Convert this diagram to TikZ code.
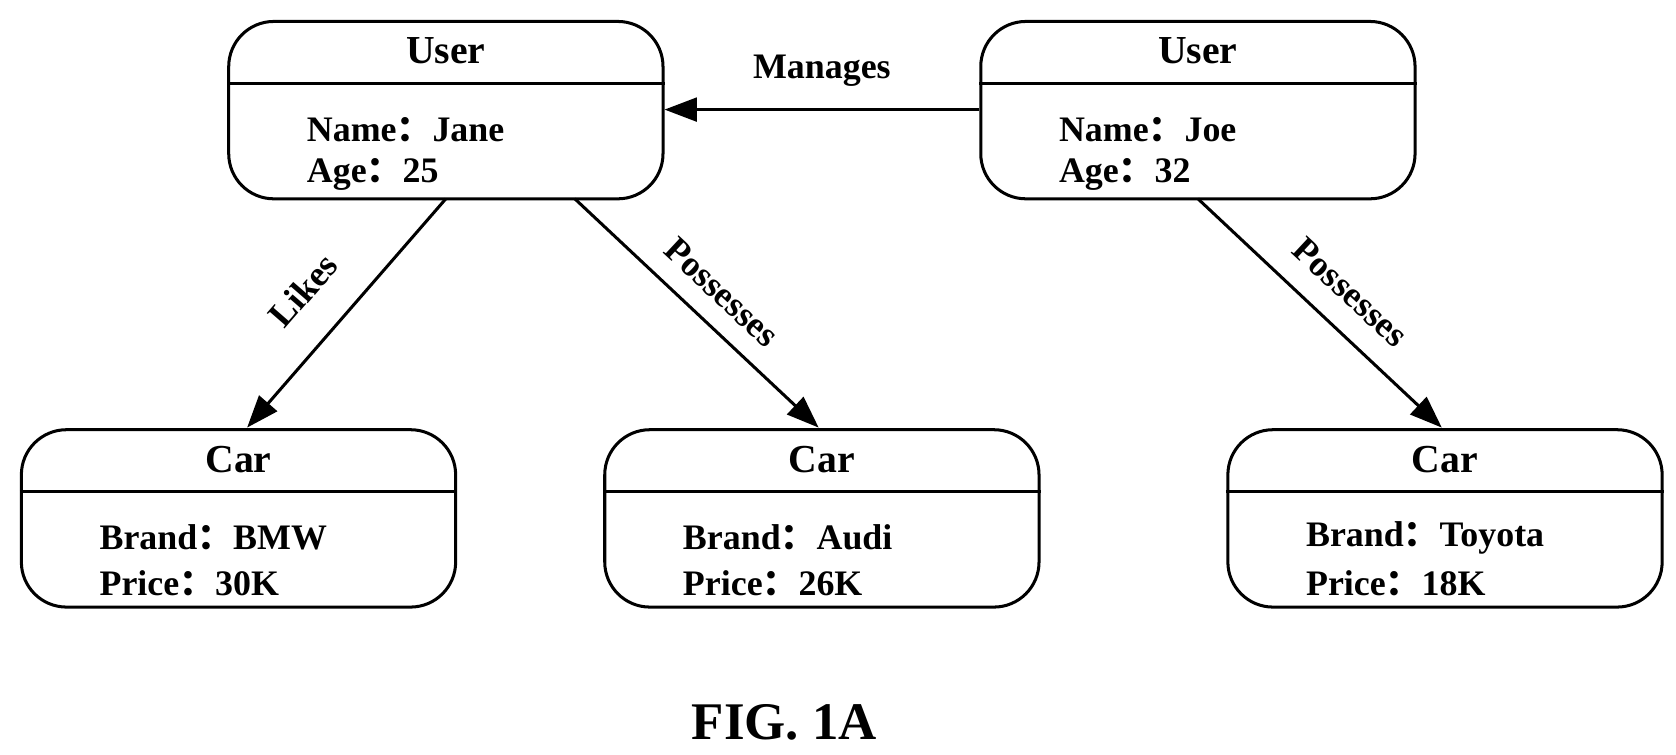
\documentclass[tikz,border=0pt]{standalone}
\usepackage{fontspec}
\setmainfont{Liberation Serif}
\newfontfamily\cjk{Noto Sans CJK SC}
\usetikzlibrary{arrows.meta}
\newcommand{\fc}{{\cjk\bfseries ：}}
\begin{document}
\begin{tikzpicture}[x=0.01cm,y=-0.01cm,
  box/.style={draw,line width=0.8pt,rounded corners=0.42cm,minimum width=4.04cm,minimum height=1.65cm,inner sep=0pt},
  ttl/.style={font=\fontsize{10.5}{12}\selectfont\bfseries},
  txt/.style={font=\fontsize{9.5}{11}\selectfont\bfseries,anchor=west,inner sep=0pt},
  arr/.style={-{Triangle[length=0.3cm,width=0.22cm]},line width=0.8pt},
  lbl/.style={font=\fontsize{9.5}{11}\selectfont\bfseries}]
\useasboundingbox (0,0) rectangle (1560,702);
\def\mk#1#2#3#4#5#6{%
  \node[box] (#1) at (#2,#3) {};
  \draw[line width=0.8pt] (#1.west|-0,#3-25) -- (#1.east|-0,#3-25);
  \node[ttl] (#1t) at (#2,#3-55) {#4};
  \node[txt] (#1a) at (#2-130,#3+18) {#5};
  \node[txt] (#1b) at (#2-130,#3+60) {#6};}
\mk{jane}{415}{102.5}{User}{Name\fc Jane}{Age\fc 25}
\mk{joe}{1115}{102.5}{User}{Name\fc Joe}{Age\fc 32}
\mk{bmw}{222}{482.5}{Car}{Brand\fc BMW}{Price\fc 30K}
\mk{audi}{765}{482.5}{Car}{Brand\fc Audi}{Price\fc 26K}
\mk{toy}{1345}{482.5}{Car}{Brand\fc Toyota}{Price\fc 18K}
\coordinate (j1) at (415,185); \coordinate (j2) at (535,185); \coordinate (o1) at (1115,185);
\coordinate (b1) at (230,398); \coordinate (a1) at (762,398); \coordinate (t1) at (1342,398);
\draw[arr] (j1) -- (b1);
\draw[arr] (j2) -- (a1);
\draw[arr] (o1) -- (t1);
\draw[arr] (joe.west|-0,102) -- (jane.east|-0,102);
\node[lbl] (m) at (765,66) {Manages};
\node[lbl,rotate=49] (lk) at (282,270) {Likes};
\node[lbl,rotate=-43] (p1) at (672,272) {Possesses};
\node[lbl,rotate=-43] (p2) at (1257,272) {Possesses};
\node[font=\fontsize{14}{16}\selectfont\bfseries] (fig) at (730,672) {FIG. 1A};
\end{tikzpicture}
\end{document}
